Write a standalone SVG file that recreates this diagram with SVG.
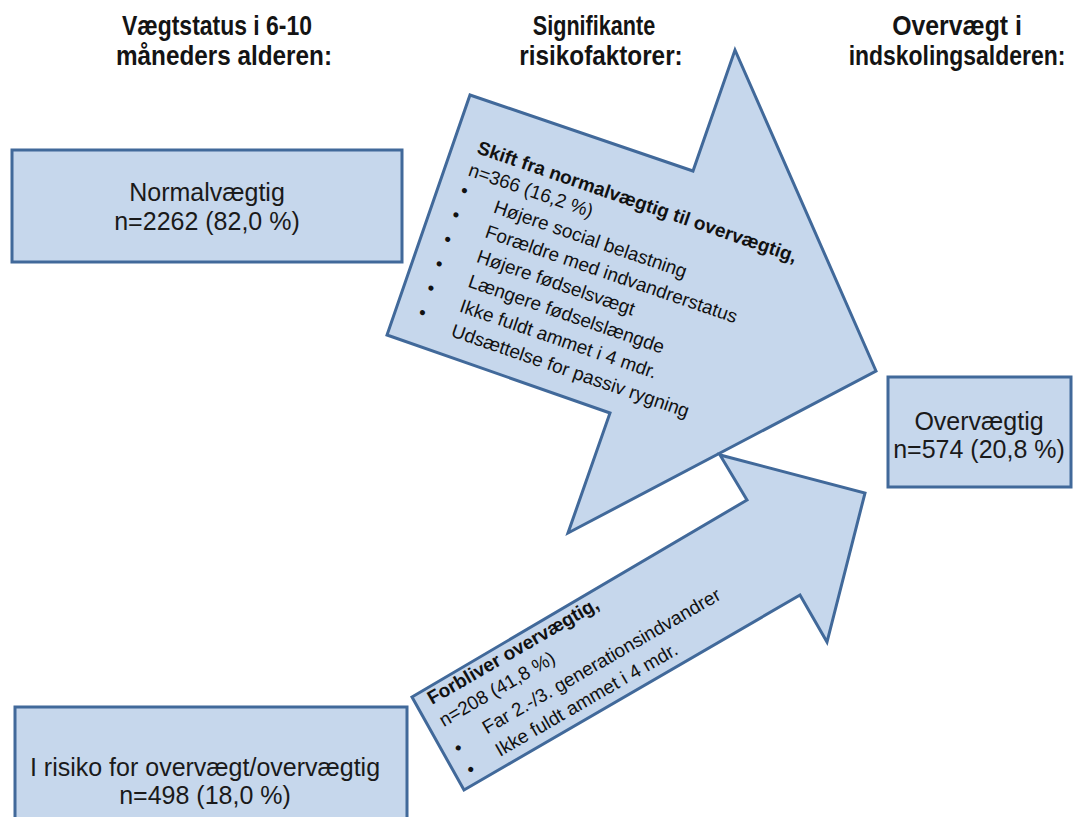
<svg xmlns="http://www.w3.org/2000/svg" width="1075" height="817" viewBox="0 0 1075 817">
  <style>
    .shape { fill: #C6D7EC; stroke: #41699A; stroke-width: 3; stroke-linejoin: miter; }
    .hdr { font-family: "Liberation Sans", Arial, sans-serif; font-weight: bold; font-size: 27px; fill: #141414; text-anchor: middle; }
    .box { font-family: "Liberation Sans", Arial, sans-serif; font-size: 25px; fill: #1a1a1a; text-anchor: middle; }
    .arr { font-family: "Liberation Sans", Arial, sans-serif; font-size: 19px; fill: #111; }
    .arrb { font-family: "Liberation Sans", Arial, sans-serif; font-size: 19px; font-weight: bold; fill: #111; }
  </style>
  <rect width="1075" height="817" fill="#ffffff"/>

  <g id="headers">
    <text class="hdr" transform="translate(217,35) scale(0.85,1)" x="0" y="0">Vægtstatus i 6-10</text>
    <text class="hdr" transform="translate(224,65) scale(0.9,1)" x="0" y="0">måneders alderen:</text>
    <text class="hdr" transform="translate(594,35) scale(0.8,1)" x="0" y="0">Signifikante</text>
    <text class="hdr" transform="translate(601,65) scale(0.9,1)" x="0" y="0">risikofaktorer:</text>
    <text class="hdr" transform="translate(957,35) scale(0.92,1)" x="0" y="0">Overvægt i</text>
    <text class="hdr" transform="translate(957,65) scale(0.85,1)" x="0" y="0">indskolingsalderen:</text>
  </g>

  <g id="connectors">
    <g id="arrow-big">
      <polygon class="shape" points="470,95 693,171 735,50 876,371 568,533 610,413 387,335"/>
      <g transform="translate(476,153) rotate(19)">
        <text class="arrb" x="0" y="0">Skift fra normalvægtig til overvægtig,</text>
        <text class="arr" x="-1" y="24">n=366 (16,2 %)</text>
        <text class="arr" x="-2" y="45.6">•</text>
        <text class="arr" x="-2" y="71.4">•</text>
        <text class="arr" x="-2" y="97.2">•</text>
        <text class="arr" x="-2" y="123">•</text>
        <text class="arr" x="-2" y="148.8">•</text>
        <text class="arr" x="-2" y="174.6">•</text>
        <text class="arr" x="35" y="50.6">Højere social belastning</text>
        <text class="arr" x="35" y="76.8">Forældre med indvandrerstatus</text>
        <text class="arr" x="35" y="103">Højere fødselsvægt</text>
        <text class="arr" x="35" y="129.2">Længere fødselslængde</text>
        <text class="arr" x="35" y="155.4">Ikke fuldt ammet i 4 mdr.</text>
        <text class="arr" x="35" y="181.6">Udsættelse for passiv rygning</text>
      </g>
    </g>
    <g id="arrow-small">
      <polygon class="shape" points="412,697 747,500 720,455 865,493 827,642 800,595 464,790"/>
      <g transform="translate(432,705) rotate(-30)">
        <text class="arrb" x="0" y="0">Forbliver overvægtig,</text>
        <text class="arr" x="-1" y="25">n=208 (41,8 %)</text>
        <text class="arr" x="-2" y="56.5">•</text>
        <text class="arr" x="-2" y="81.5">•</text>
        <text class="arr" x="33" y="53">Far 2.-/3. generationsindvandrer</text>
        <text class="arr" x="33" y="79">Ikke fuldt ammet i 4 mdr.</text>
      </g>
    </g>
  </g>

  <g id="node-normal">
    <rect class="shape" x="12" y="150" width="390" height="112"/>
    <text class="box" x="207" y="201">Normalvægtig</text>
    <text class="box" x="207" y="230">n=2262 (82,0 %)</text>
  </g>

  <g id="node-risk">
    <rect class="shape" x="15" y="707" width="392" height="130"/>
    <text class="box" x="205" y="776">I risiko for overvægt/overvægtig</text>
    <text class="box" x="205" y="804">n=498 (18,0 %)</text>
  </g>

  <g id="node-overweight">
    <rect class="shape" x="888" y="377" width="183" height="110"/>
    <text class="box" x="979" y="430">Overvægtig</text>
    <text class="box" x="979" y="458">n=574 (20,8 %)</text>
  </g>
</svg>
